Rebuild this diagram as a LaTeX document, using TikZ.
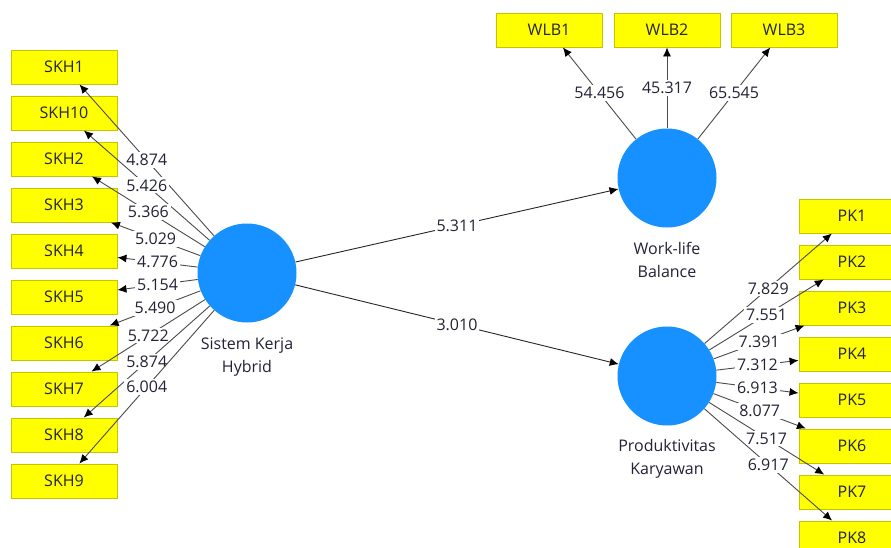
\documentclass[tikz,border=0pt]{standalone}
\usepackage{fontspec}
\setmainfont{Open Sans}
\usetikzlibrary{arrows.meta}
\definecolor{boxfill}{RGB}{255,255,0}
\definecolor{boxline}{RGB}{196,196,0}
\definecolor{latfill}{RGB}{22,145,255}
\definecolor{edgecol}{RGB}{75,75,75}
\definecolor{txtcol}{RGB}{35,35,55}
\tikzset{
  indbox/.style={draw=boxline, line width=0.9pt, fill=boxfill, minimum width=106pt, minimum height=34pt, inner sep=0pt, text=txtcol, font=\fontsize{16}{20}\selectfont},
  latent/.style={circle, fill=latfill, minimum size=99pt, inner sep=0pt},
  latlab/.style={anchor=north, align=center, text=txtcol, font=\fontsize{16}{23}\selectfont},
  edge/.style={draw=edgecol, line width=0.9pt, -{Latex[length=9pt,width=8pt,black]}},
  lab/.style={midway, fill=white, inner sep=2pt, text=txtcol, font=\fontsize{16}{18}\selectfont},
}
\begin{document}
\begin{tikzpicture}[x=1pt,y=-1pt]
\useasboundingbox (0,0) rectangle (891,547);
\clip (0,0) rectangle (891,547);
\fill[white] (0,0) rectangle (891,547);
% latent variables
\node[latent] (skh) at (247,273) {};
\node[latent] (wlb) at (667,178) {};
\node[latent] (pk) at (667,376) {};
\node[latlab] (skhl) at (247,334) {Sistem Kerja\\Hybrid};
\node[latlab] (wlbl) at (667,239) {Work-life\\Balance};
\node[latlab] (pkl) at (667,436) {Produktivitas\\Karyawan};
% SKH indicators
\node[indbox] (skh1) at (64,67) {SKH1};
\node[indbox] (skh10) at (64,113) {SKH10};
\node[indbox] (skh2) at (64,159) {SKH2};
\node[indbox] (skh3) at (64,205) {SKH3};
\node[indbox] (skh4) at (64,251) {SKH4};
\node[indbox] (skh5) at (64,297) {SKH5};
\node[indbox] (skh6) at (64,343) {SKH6};
\node[indbox] (skh7) at (64,389) {SKH7};
\node[indbox] (skh8) at (64,435) {SKH8};
\node[indbox] (skh9) at (64,481) {SKH9};
% WLB indicators
\node[indbox] (wlb1) at (549,30) {WLB1};
\node[indbox] (wlb2) at (667,30) {WLB2};
\node[indbox] (wlb3) at (784,30) {WLB3};
% PK indicators
\node[indbox] (pk1) at (852,216) {PK1};
\node[indbox] (pk2) at (852,262) {PK2};
\node[indbox] (pk3) at (852,308) {PK3};
\node[indbox] (pk4) at (852,354) {PK4};
\node[indbox] (pk5) at (852,400) {PK5};
\node[indbox] (pk6) at (852,446) {PK6};
\node[indbox] (pk7) at (852,492) {PK7};
\node[indbox] (pk8) at (852,538) {PK8};
% SKH loadings
\draw[edge] (skh) -- node[lab]{4.874} (skh1);
\draw[edge] (skh) -- node[lab]{5.426} (skh10);
\draw[edge] (skh) -- node[lab]{5.366} (skh2);
\draw[edge] (skh) -- node[lab]{5.029} (skh3);
\draw[edge] (skh) -- node[lab]{4.776} (skh4);
\draw[edge] (skh) -- node[lab]{5.154} (skh5);
\draw[edge] (skh) -- node[lab]{5.490} (skh6);
\draw[edge] (skh) -- node[lab]{5.722} (skh7);
\draw[edge] (skh) -- node[lab]{5.874} (skh8);
\draw[edge] (skh) -- node[lab]{6.004} (skh9);
% WLB loadings
\draw[edge] (wlb) -- node[lab]{54.456} (wlb1);
\draw[edge] (wlb) -- node[lab]{45.317} (wlb2);
\draw[edge] (wlb) -- node[lab]{65.545} (wlb3);
% PK loadings
\draw[edge] (pk) -- node[lab]{7.829} (pk1);
\draw[edge] (pk) -- node[lab]{7.551} (pk2);
\draw[edge] (pk) -- node[lab]{7.391} (pk3);
\draw[edge] (pk) -- node[lab]{7.312} (pk4);
\draw[edge] (pk) -- node[lab]{6.913} (pk5);
\draw[edge] (pk) -- node[lab]{8.077} (pk6);
\draw[edge] (pk) -- node[lab]{7.517} (pk7);
\draw[edge] (pk) -- node[lab]{6.917} (pk8);
% structural paths
\draw[edge, draw=black!85] (skh) -- node[lab]{5.311} (wlb);
\draw[edge, draw=black!85] (skh) -- node[lab]{3.010} (pk);
\end{tikzpicture}
\end{document}
